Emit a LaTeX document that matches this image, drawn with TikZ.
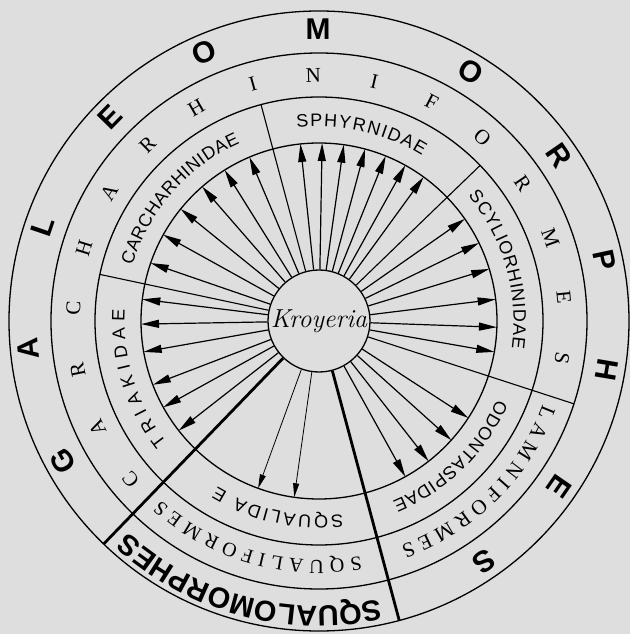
\documentclass[tikz,border=0pt]{standalone}
\usepackage{fontspec}
\usetikzlibrary{arrows.meta,decorations.text}
\newfontfamily\lsans{Liberation Sans}
\newfontfamily\lserif{Liberation Serif}
\definecolor{bg}{RGB}{222,222,222}
\tikzset{
  ring/.style={line width=1.3pt},
  septhin/.style={line width=1.1pt},
  septhick/.style={line width=2.8pt},
  ray/.style={line width=1.2pt,-{Triangle[length=18pt,width=8pt]}},
  thinray/.style={line width=0.8pt,-{Triangle[length=14pt,width=6pt]}},
  bigletter/.style={font=\lsans\bfseries\fontsize{30}{30}\selectfont, inner sep=0pt},
  midletter/.style={font=\lserif\fontsize{21}{21}\selectfont, inner sep=0pt},
}
\newcommand\arcword[5]{\path[decorate,decoration={text along path,text={|#1|#5},text align={fit to path}}] (#2:#4) arc[start angle=#2,end angle=#3,radius=#4];}
\begin{document}
\begin{tikzpicture}
\useasboundingbox (-319pt,-313pt) rectangle (311pt,321pt);
\fill[bg] (-319pt,-313pt) rectangle (311pt,321pt);
% rings
\draw[ring] (0,0) circle[radius=310pt];
\draw[ring] (0,0) circle[radius=268pt];
\draw[ring] (0,0) circle[radius=224pt];
\draw[ring] (0,0) circle[radius=178pt];
% centre
\node[circle, draw, ring, minimum size=102pt, inner sep=0pt, fill=bg] (k) at (0,0) {\itshape\fontsize{26}{26}\selectfont Kroyeria};
% separators
\draw[septhin] (k.105) -- (105:224pt);
\draw[septhin] (k.44) -- (44:224pt);
\draw[septhin] (k.168) -- (168:224pt);
\draw[septhin] (k.342) -- (342:268pt);
\draw[septhick] (k.226) -- (226:310pt);
\draw[septhick] (k.285) -- (285:310pt);
% arrows
\foreach \a in {96,89,82,75,68,61,54, 113,122,131,141,151,161, 173,181,190,201,209,218, 35,26,17,7,358,350, 327,318,308,299}
  \draw[ray] (k.\a) -- (\a:178pt);
\foreach \a in {250,262}
  \draw[thinray] (k.\a) -- (\a:178pt);
% families
\arcword{\lsans\fontsize{18}{18}\selectfont}{96.5}{58}{194.5pt}{SPHYRNIDAE}
\arcword{\lsans\fontsize{18}{18}\selectfont}{163.5}{114}{194.5pt}{CARCHARHINIDAE}
\arcword{\lsans\fontsize{18}{18}\selectfont}{40}{-8}{194.5pt}{SCYLIORHINIDAE}
\arcword{\lsans\fontsize{18}{18}\selectfont}{218.5}{176.5}{194.5pt}{TRIAKIDAE}
\arcword{\lsans\fontsize{18}{18}\selectfont}{-23.8}{-67.8}{194.5pt}{ODONTASPIDAE}
\arcword{\lsans\fontsize{18}{18}\selectfont}{277}{238.5}{194.5pt}{SQUALIDA E}
% orders
\foreach \ch [count=\i from 0] in {C,A,R,C,H,A,R,H,I,N,I,F,O,R,M,E,S} {
  \pgfmathsetmacro\ang{220-14.3*\i}
  \node[midletter, rotate=\ang-90] (cf\i) at (\ang:246pt) {\ch};
}
\arcword{\lserif\fontsize{20}{20}\selectfont}{280}{228.5}{239pt}{SQUALIFORMES}
\arcword{\lserif\fontsize{21}{21}\selectfont}{-20.5}{-70}{239pt}{LAMNIFORMES}
% superorders
\foreach \ch/\ang [count=\i] in {G/208.7,A/185.4,L/161.2,E/135.7,O/113.2,M/90.2,O/58.7,R/34.6,P/12,H/-9.6,E/-34.6,S/-55.5}
  \node[bigletter, rotate=\ang-90] (gm\i) at (\ang:292pt) {\ch};
\arcword{\lsans\bfseries\fontsize{29}{29}\selectfont}{282.3}{228.7}{285pt}{SQUALOMORPHES}
\end{tikzpicture}
\end{document}
